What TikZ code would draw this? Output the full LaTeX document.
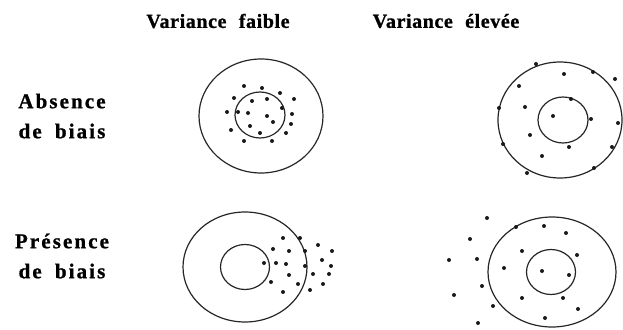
\documentclass[tikz,border=0pt]{standalone}
\usepackage{fontspec}
\setmainfont{Liberation Serif}
\newfontfamily\lblfont[LetterSpace=3,WordSpace=2.2,FakeBold=1]{Liberation Serif Bold}
\newfontfamily\rowfont[LetterSpace=10,WordSpace=1.8,FakeBold=1]{Liberation Serif Bold}
\begin{document}
\begin{tikzpicture}[x=1pt,y=-1pt,
  ring/.style={line width=1.2pt,black!85},
  pt/.style={fill=black!90,draw=none},
  head/.style={font=\lblfont\fontsize{20}{22}\selectfont,inner sep=0pt},
  rowlbl/.style={font=\rowfont\fontsize{21}{30}\selectfont,inner sep=0pt,align=center}]
\useasboundingbox (0,0) rectangle (623,329);
\node[head] (h1) at (218,21) {Variance faible};
\node[head] (h2) at (446,21) {Variance élevée};
\node[rowlbl] (r1) at (62,116) {Absence\\de biais};
\node[rowlbl] (r2) at (62,256) {Présence\\de biais};
% top-left
\draw[ring] (261,116) ellipse [x radius=62,y radius=57];
\draw[ring] (260,115) ellipse [x radius=25,y radius=23];
\foreach \p in {(244,86),(262,88),(280,93),(234,98),(252,101),(267,99),(294,99),(227,112),(238,112),(248,113),(282,108),(267,116),(292,114),(273,122),(291,124),(250,126),(231,130),(260,133),(286,133),(244,141),(272,141)}
  \fill[pt] \p circle (2);
% top-right
\draw[ring] (560,120) ellipse [x radius=62,y radius=58];
\draw[ring] (563,120) ellipse [x radius=25,y radius=23];
\foreach \p in {(536,64),(564,74),(593,72),(615,79),(519,86),(571,99),(525,107),(499,108),(553,116),(591,119),(618,123),(530,135),(503,144),(569,147),(612,147),(542,156),(594,168),(527,173)}
  \fill[pt] \p circle (2);
% bottom-left
\draw[ring] (245,267) ellipse [x radius=62,y radius=55];
\draw[ring] (245,267) ellipse [x radius=24.5,y radius=22.5];
\foreach \p in {(283,238),(300,238),(318,245),(273,249),(289,251),(305,251),(332,251),(322,260),(264,263),(276,263),(286,264),(305,266),(331,266),(289,275),(313,274),(329,274),(271,282),(298,284),(323,284),(310,290),(283,292)}
  \fill[pt] \p circle (2);
% bottom-right
\draw[ring] (552,272) ellipse [x radius=64,y radius=55];
\draw[ring] (551,272) ellipse [x radius=24.5,y radius=22.5];
\foreach \p in {(487,218),(516,227),(544,226),(566,233),(470,239),(522,251),(577,255),(449,260),(477,259),(504,268),(542,271),(569,275),(482,286),(454,295),(522,298),(563,298),(493,306),(578,309),(545,318),(478,323)}
  \fill[pt] \p circle (2);
\end{tikzpicture}
\end{document}
